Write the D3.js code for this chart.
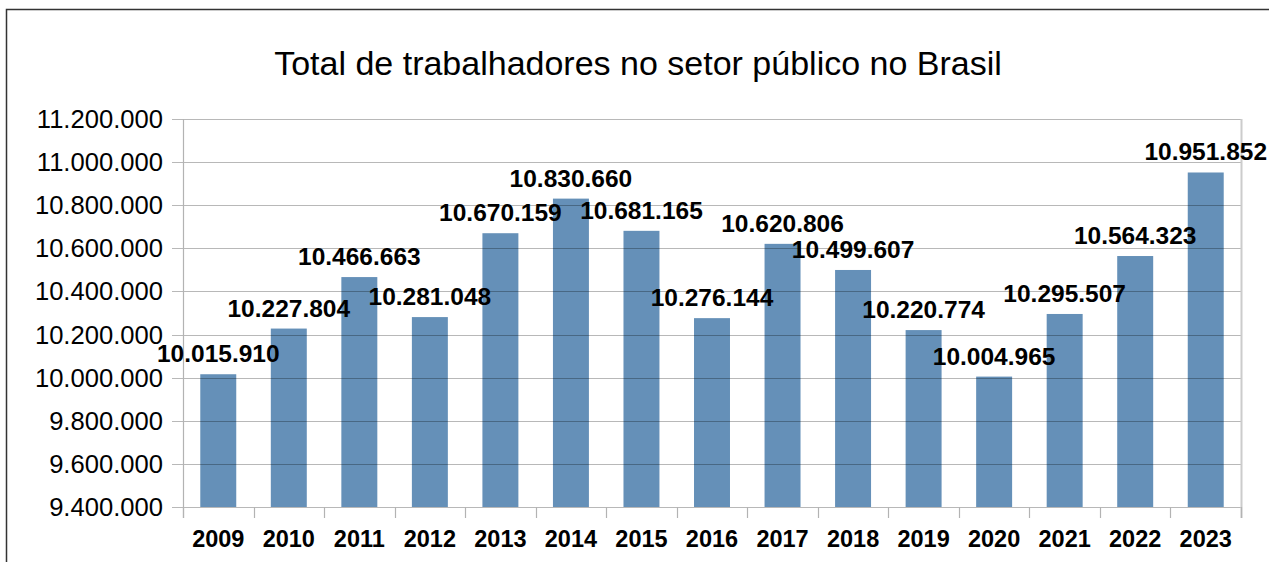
<!DOCTYPE html>
<html>
<head>
<meta charset="utf-8">
<script src="https://cdn.jsdelivr.net/npm/d3@7"></script>
<style>
  body { margin: 0; background: #fff; }
  svg { display: block; font-family: "Liberation Sans", Arial, sans-serif; }
</style>
</head>
<body>
<div id="chart"></div>
<script>
// chart data
const years = ["2009", "2010", "2011", "2012", "2013", "2014", "2015", "2016",
               "2017", "2018", "2019", "2020", "2021", "2022", "2023"];
const workers = [10015910, 10227804, 10466663, 10281048, 10670159, 10830660, 10681165,
                 10276144, 10620806, 10499607, 10220774, 10004965, 10295507, 10564323, 10951852];
const yTicks = [9400000, 9600000, 9800000, 10000000, 10200000, 10400000,
                10600000, 10800000, 11000000, 11200000];
const title = "Total de trabalhadores no setor público no Brasil";

const width = 1269, height = 562;
const plot = { left: 183, right: 1241, top: 119, bottom: 507 };

// pt-BR style thousands separator
const fmt = d3.formatLocale({ decimal: ",", thousands: ".", grouping: [3], currency: ["R$", ""] }).format(",d");

const svg = d3.select("#chart").append("svg")
    .attr("width", width)
    .attr("height", height);

// outer frame
svg.append("rect")
    .attr("x", 6.5).attr("y", 9.5)
    .attr("width", width + 10).attr("height", height + 10)
    .attr("fill", "none")
    .attr("stroke", "#333")
    .attr("stroke-width", 1.5);

svg.append("text")
    .attr("x", 638).attr("y", 75)
    .attr("text-anchor", "middle")
    .attr("font-size", 34)
    .attr("fill", "#000")
    .text(title);

const x = d3.scaleBand()
    .domain(years)
    .range([plot.left, plot.right])
    .paddingInner(0.49)
    .paddingOuter(0.245);

const y = d3.scaleLinear()
    .domain([9400000, 11200000])
    .range([plot.bottom, plot.top]);

// bars
svg.append("g")
    .selectAll("rect")
    .data(years)
    .join("rect")
    .attr("x", (d) => x(d))
    .attr("y", (d, i) => y(workers[i]))
    .attr("width", x.bandwidth())
    .attr("height", (d, i) => y(9400000) - y(workers[i]))
    .attr("fill", "#6590b8");

// gridlines drawn over the bars
svg.append("g")
    .selectAll("line")
    .data(yTicks)
    .join("line")
    .attr("x1", plot.left - 11).attr("x2", plot.right)
    .attr("y1", (d) => Math.round(y(d)) + 0.5)
    .attr("y2", (d) => Math.round(y(d)) + 0.5)
    .attr("stroke", "rgba(0,0,0,0.28)")
    .attr("stroke-width", 1.2);

// left axis line and right plot edge
svg.append("line")
    .attr("x1", plot.left + 0.5).attr("x2", plot.left + 0.5)
    .attr("y1", plot.top).attr("y2", plot.bottom + 11)
    .attr("stroke", "#b3b3b3").attr("stroke-width", 1.2);
svg.append("line")
    .attr("x1", plot.right + 0.5).attr("x2", plot.right + 0.5)
    .attr("y1", plot.top).attr("y2", plot.bottom + 11)
    .attr("stroke", "#ccc").attr("stroke-width", 2);

// y tick labels
svg.append("g")
    .selectAll("text")
    .data(yTicks)
    .join("text")
    .attr("x", 163)
    .attr("y", (d) => y(d))
    .attr("dy", "0.35em")
    .attr("text-anchor", "end")
    .attr("font-size", 25.6)
    .attr("fill", "#000")
    .text((d) => fmt(d));

// x ticks at band boundaries
const step = x.step();
svg.append("g")
    .selectAll("line")
    .data(d3.range(years.length + 1))
    .join("line")
    .attr("x1", (i) => Math.round(plot.left + i * step) + 0.5)
    .attr("x2", (i) => Math.round(plot.left + i * step) + 0.5)
    .attr("y1", plot.bottom).attr("y2", plot.bottom + 11)
    .attr("stroke", "#b3b3b3").attr("stroke-width", 1.2);

// x labels
svg.append("g")
    .selectAll("text")
    .data(years)
    .join("text")
    .attr("x", (d) => x(d) + x.bandwidth() / 2)
    .attr("y", 547)
    .attr("text-anchor", "middle")
    .attr("font-size", 23.5)
    .attr("font-weight", "bold")
    .attr("fill", "#000")
    .text((d) => d);

// value labels above bars
svg.append("g")
    .selectAll("text")
    .data(years)
    .join("text")
    .attr("x", (d) => x(d) + x.bandwidth() / 2)
    .attr("y", (d, i) => y(workers[i]) - 12)
    .attr("text-anchor", "middle")
    .attr("font-size", 24.5)
    .attr("font-weight", "bold")
    .attr("fill", "#000")
    .text((d, i) => fmt(workers[i]));
</script>
</body>
</html>
